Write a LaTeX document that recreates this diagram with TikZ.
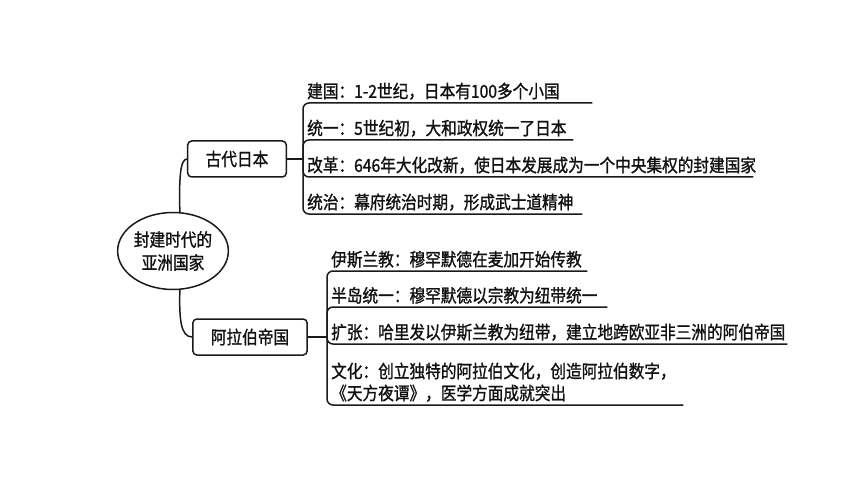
\documentclass[tikz,border=0pt]{standalone}
\usepackage{fontspec}
\setmainfont{Noto Sans CJK SC}[FakeStretch=0.87, FakeBold=1.2]
\usepackage{xcolor}
\definecolor{inkline}{HTML}{1A1A1A}
\definecolor{inktext}{HTML}{111111}
\usepackage{tikz}
\usetikzlibrary{shapes.geometric}
\tikzset{
  rootnode/.style={draw=inkline, line width=1.5pt, ellipse, inner sep=0pt, minimum width=107pt, minimum height=77pt, align=center, text=inktext, font=\fontsize{18}{23}\selectfont},
  topic/.style={draw=inkline, line width=1.5pt, rounded corners=4pt, inner xsep=18pt, minimum height=36pt, text=inktext, font=\fontsize{18}{20}\selectfont},
  item/.style={anchor=south west, align=left, inner xsep=0pt, inner ysep=3pt, text=inktext, font=\fontsize{18}{22}\selectfont},
  link/.style={draw=inkline, line width=1.5pt, rounded corners=6pt},
}

\begin{document}
\begin{tikzpicture}[x=1pt,y=-1pt]
  \useasboundingbox (0,0) rectangle (860,484);
  % root and the two topics
  \node[rootnode] (root) at (173,251) {封建时代的\\亚洲国家};
  \node[topic] (japan) at (237,159) {古代日本};
  \node[topic] (arab) at (250,337) {阿拉伯帝国};
  \draw[link] (root.80) .. controls (179,180) and (180,159) .. (japan.west);
  \draw[link] (root.-80) .. controls (179,320) and (181,337) .. (arab.west);
  % brackets
  \coordinate (jhub) at (303,159);
  \coordinate (ahub) at (327,337);
  \draw[link] (japan.east) -- (jhub);
  \draw[link] (arab.east) -- (ahub);
  \foreach \n/\ypos/\xend/\txt in {j1/103/592/{建国：1-2世纪，日本有100多个小国}, j2/140/573/{统一：5世纪初，大和政权统一了日本}, j3/177/753/{改革：646年大化改新，使日本发展成为一个中央集权的封建国家}, j4/214/582/{统治：幕府统治时期，形成武士道精神}} {
    \pgfmathsetmacro\tw{\xend-307}
    \node[item, text width=\tw pt] (\n) at (307,\ypos) {\txt};
    \draw[link] (jhub) |- (\n.south east);
  }
  \foreach \n/\ypos/\xend/\txt in {a1/271/587/{伊斯兰教：穆罕默德在麦加开始传教}, a2/307/607/{半岛统一：穆罕默德以宗教为纽带统一}, a3/344/787/{扩张：哈里发以伊斯兰教为纽带，建立地跨欧亚非三洲的阿伯帝国}, a4/405/683/{文化：创立独特的阿拉伯文化，创造阿拉伯数字，\\《天方夜谭》，医学方面成就突出}} {
    \pgfmathsetmacro\tw{\xend-331}
    \node[item, text width=\tw pt] (\n) at (331,\ypos) {\txt};
    \draw[link] (ahub) |- (\n.south east);
  }
\end{tikzpicture}
\end{document}
